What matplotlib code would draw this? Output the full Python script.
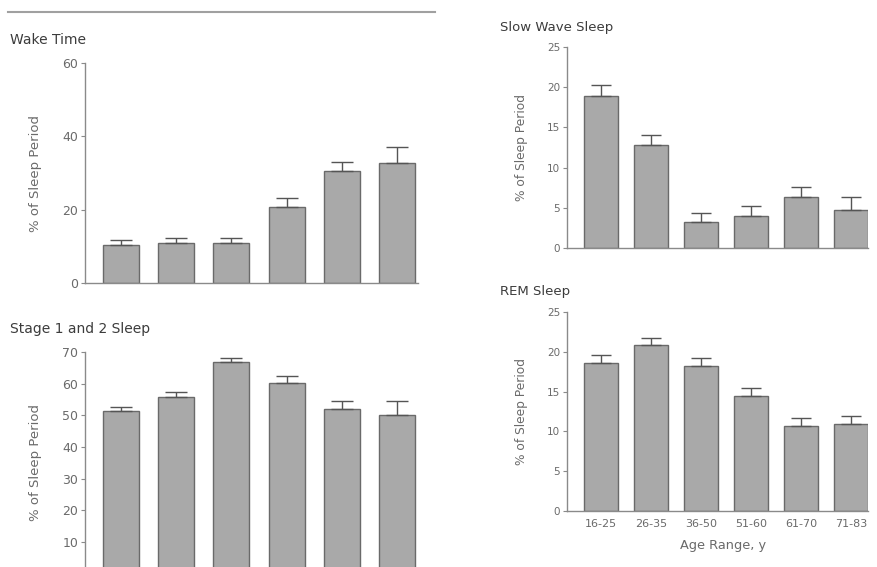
import matplotlib
matplotlib.use("Agg")
import matplotlib.pyplot as plt
import numpy as np

# data (mean and upper error bar end)
ages = ["16-25", "26-35", "36-50", "51-60", "61-70", "71-83"]
wake = [10.4, 10.8, 10.9, 20.7, 30.5, 32.6]
wake_err = [1.3, 1.4, 1.3, 2.5, 2.5, 4.6]
stage12 = [51.3, 55.7, 66.8, 60.2, 52.1, 50.2]
stage12_err = [1.5, 1.6, 1.4, 2.4, 2.4, 4.3]
sws = [18.9, 12.8, 3.3, 4.0, 6.3, 4.75]
sws_err = [1.4, 1.2, 1.1, 1.25, 1.35, 1.65]
rem = [18.6, 20.9, 18.2, 14.4, 10.7, 10.9]
rem_err = [1.0, 0.8, 1.1, 1.05, 1.0, 1.0]

bar_col = "#a9a9a9"
edge_col = "#6a6a6a"
txt_col = "#6a6a6a"
title_col = "#3c3c3c"

plt.rcParams['font.family'] = ['DejaVu Sans']

fig = plt.figure(figsize=(8.78, 5.67), dpi=100)
W, H = 878.0, 567.0


def panel(px0, px1, py_top, py_bot, vals, errs, ylim, yticks, xlim, width, tsize, lsize, cap):
    ax = fig.add_axes([px0 / W, 1 - py_bot / H, (px1 - px0) / W, (py_bot - py_top) / H])
    x = np.arange(len(vals))
    ax.bar(x, vals, width=width, color=bar_col, edgecolor=edge_col, linewidth=1.0, zorder=2)
    ax.errorbar(x, vals, yerr=[np.zeros(len(errs)), errs], fmt="none", ecolor="#555555",
                elinewidth=1.0, capsize=cap, capthick=1.0, zorder=3)
    ax.set_xlim(xlim)
    ax.set_ylim(ylim)
    ax.set_yticks(yticks)
    for s in ["top", "right"]:
        ax.spines[s].set_visible(False)
    for s in ["left", "bottom"]:
        ax.spines[s].set_color("#8a8a8a")
        ax.spines[s].set_linewidth(1.0)
    ax.tick_params(axis="y", direction="out", length=3, width=0.8, color="#8a8a8a",
                   labelsize=tsize, labelcolor=txt_col, pad=2)
    ax.tick_params(axis="x", length=0)
    ax.set_xticks(x)
    ax.set_xticklabels([])
    ax.set_ylabel("% of Sleep Period", fontsize=lsize, color=txt_col)
    ax.yaxis.set_label_coords(-0.13, 0.5)
    return ax


# left column
panel(85, 418, 63, 283, wake, wake_err, (0, 60), [0, 20, 40, 60], (-0.652, 5.38), 0.652, 9, 9.5, 8)
panel(85, 418, 352.3, 573.4, stage12, stage12_err, (0, 70), range(0, 71, 10), (-0.652, 5.38), 0.652, 9, 9.5, 8)

# right column
panel(567, 868, 46.7, 248.3, sws, sws_err, (0, 25), range(0, 26, 5), (-0.68, 5.34), 0.67, 7.5, 8.8, 7)
ax = panel(567, 868, 312.3, 510.7, rem, rem_err, (0, 25), range(0, 26, 5), (-0.68, 5.34), 0.67, 7.5, 8.8, 7)
ax.set_xticklabels(ages)
ax.tick_params(axis="x", labelsize=8, labelcolor=txt_col, pad=6)
ax.set_xlabel("Age Range, y", fontsize=9.3, color=txt_col)
ax.xaxis.set_label_coords(0.52, -0.145)

# panel titles
fig.text(10 / W, 1 - 40 / H, "Wake Time", fontsize=10, color=title_col, va="center", ha="left")
fig.text(10 / W, 1 - 329 / H, "Stage 1 and 2 Sleep", fontsize=10, color=title_col, va="center", ha="left")
fig.text(500 / W, 1 - 28 / H, "Slow Wave Sleep", fontsize=9.5, color=title_col, va="center", ha="left")
fig.text(500 / W, 1 - 291 / H, "REM Sleep", fontsize=9.5, color=title_col, va="center", ha="left")

# rule across the top of the left column
fig.add_artist(plt.Line2D([8 / W, 435 / W], [1 - 12 / H, 1 - 12 / H], color="#a0a0a0", linewidth=1.5))

fig.savefig("out.png", dpi=100)
